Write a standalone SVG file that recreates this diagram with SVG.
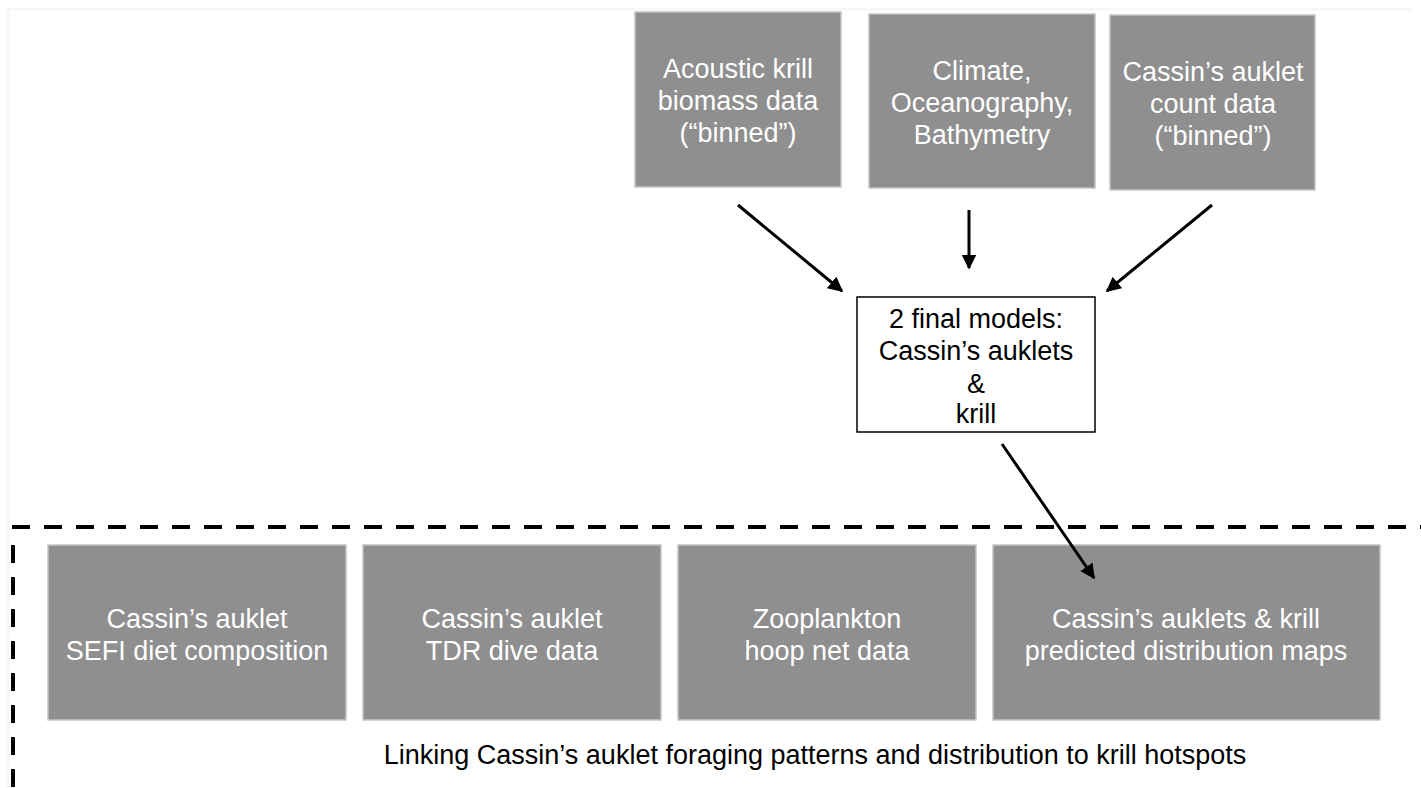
<svg xmlns="http://www.w3.org/2000/svg" width="1421" height="788" viewBox="0 0 1421 788">
  <defs>
    <style>
      .box { fill: #8f8f8f; stroke: #c4c4c4; stroke-width: 1.5; }
      .model { fill: #ffffff; stroke: #000000; stroke-width: 1.5; }
      .lbl { font-family: "Liberation Sans", Arial, sans-serif; font-size: 27px; fill: #ffffff; text-anchor: middle; }
      .dark { fill: #000000; }
      .conn { stroke: #000000; stroke-width: 3; fill: none; marker-end: url(#arrow); }
      .dash { stroke: #000000; stroke-width: 4; fill: none; stroke-dasharray: 18 14; }
    </style>
    <marker id="arrow" viewBox="0 0 10 10" refX="9" refY="5" markerWidth="5" markerHeight="5" orient="auto" markerUnits="strokeWidth">
      <path d="M0,0 L10,5 L0,10 z" fill="#000000"/>
    </marker>
  </defs>

  <rect width="1421" height="788" fill="#ffffff"/>
  <!-- faint slide frame -->
  <path d="M8,790 L8,9 L1412,9" fill="none" stroke="#f7f7f7" stroke-width="3"/>

  <!-- input data sources -->
  <g id="node-krill-acoustic">
    <rect class="box" x="635" y="12" width="206" height="175"/>
    <text class="lbl" x="738" y="78">Acoustic krill</text>
    <text class="lbl" x="738" y="110">biomass data</text>
    <text class="lbl" x="738" y="142">(“binned”)</text>
  </g>
  <g id="node-environment">
    <rect class="box" x="869" y="14" width="226" height="174"/>
    <text class="lbl" x="982" y="80">Climate,</text>
    <text class="lbl" x="982" y="112">Oceanography,</text>
    <text class="lbl" x="982" y="144">Bathymetry</text>
  </g>
  <g id="node-auklet-counts">
    <rect class="box" x="1110" y="15" width="205" height="175"/>
    <text class="lbl" x="1213" y="81">Cassin’s auklet</text>
    <text class="lbl" x="1213" y="113">count data</text>
    <text class="lbl" x="1213" y="145">(“binned”)</text>
  </g>

  <!-- modelling step -->
  <g id="node-final-models">
    <rect class="model" x="857" y="297" width="238" height="135"/>
    <text class="lbl dark" x="976" y="328">2 final models:</text>
    <text class="lbl dark" x="976" y="360">Cassin’s auklets</text>
    <text class="lbl dark" x="976" y="393">&amp;</text>
    <text class="lbl dark" x="976" y="423">krill</text>
  </g>

  <!-- dashed frame around the linking analyses -->
  <g id="frame">
    <path class="dash" d="M12,527 L1421,527"/>
    <path class="dash" d="M13,545 L13,788"/>
  </g>

  <!-- linking analyses -->
  <g id="node-sefi">
    <rect class="box" x="48" y="545" width="298" height="175"/>
    <text class="lbl" x="197" y="628">Cassin’s auklet</text>
    <text class="lbl" x="197" y="660">SEFI diet composition</text>
  </g>
  <g id="node-tdr">
    <rect class="box" x="363" y="545" width="298" height="175"/>
    <text class="lbl" x="512" y="628">Cassin’s auklet</text>
    <text class="lbl" x="512" y="660">TDR dive data</text>
  </g>
  <g id="node-hoopnet">
    <rect class="box" x="678" y="545" width="298" height="175"/>
    <text class="lbl" x="827" y="628">Zooplankton</text>
    <text class="lbl" x="827" y="660">hoop net data</text>
  </g>
  <g id="node-maps">
    <rect class="box" x="993" y="545" width="387" height="175"/>
    <text class="lbl" x="1186" y="628">Cassin’s auklets &amp; krill</text>
    <text class="lbl" x="1186" y="660">predicted distribution maps</text>
  </g>

  <g id="caption">
    <text class="lbl dark" x="815" y="764">Linking Cassin’s auklet foraging patterns and distribution to krill hotspots</text>
  </g>

  <!-- connectors -->
  <g id="connectors">
    <line class="conn" x1="738" y1="205" x2="842" y2="291"/>
    <line class="conn" x1="969" y1="210" x2="969" y2="268"/>
    <line class="conn" x1="1212" y1="205" x2="1107" y2="291"/>
    <line class="conn" x1="1002" y1="444" x2="1094" y2="578"/>
  </g>
</svg>
